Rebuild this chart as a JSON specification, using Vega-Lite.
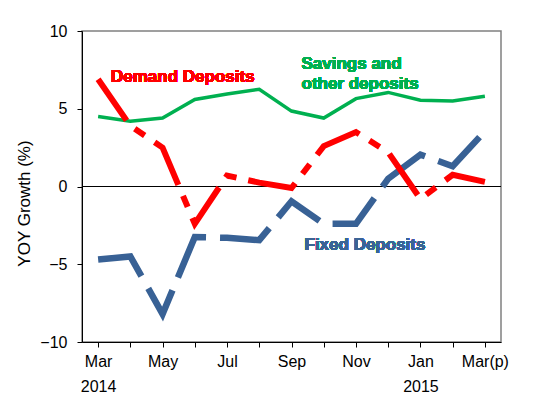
{
  "$schema": "https://vega.github.io/schema/vega-lite/v6.json",
  "width": 419,
  "height": 311,
  "autosize": {"type": "none"},
  "padding": {"left": 82, "top": 31, "right": 50, "bottom": 72},
  "background": "white",
  "config": {
    "font": "Liberation Sans",
    "view": {"stroke": "#808080", "strokeWidth": 1.5},
    "axis": {"grid": false, "domainColor": "black", "tickColor": "black", "labelColor": "black", "titleColor": "black", "labelFont": "Liberation Sans", "titleFont": "Liberation Sans"}
  },
  "data": {
    "values": [
      {"m": "Mar14", "s": "Demand", "v": 6.9},
      {"m": "Apr14", "s": "Demand", "v": 3.9},
      {"m": "May14", "s": "Demand", "v": 2.5},
      {"m": "Jun14", "s": "Demand", "v": -2.4},
      {"m": "Jul14", "s": "Demand", "v": 0.7},
      {"m": "Aug14", "s": "Demand", "v": 0.25},
      {"m": "Sep14", "s": "Demand", "v": -0.1},
      {"m": "Oct14", "s": "Demand", "v": 2.6},
      {"m": "Nov14", "s": "Demand", "v": 3.5},
      {"m": "Dec14", "s": "Demand", "v": 2.2},
      {"m": "Jan15", "s": "Demand", "v": -0.8},
      {"m": "Feb15", "s": "Demand", "v": 0.75},
      {"m": "Mar15", "s": "Demand", "v": 0.3},
      {"m": "Mar14", "s": "Savings", "v": 4.5},
      {"m": "Apr14", "s": "Savings", "v": 4.2},
      {"m": "May14", "s": "Savings", "v": 4.4},
      {"m": "Jun14", "s": "Savings", "v": 5.6},
      {"m": "Jul14", "s": "Savings", "v": 5.95},
      {"m": "Aug14", "s": "Savings", "v": 6.25},
      {"m": "Sep14", "s": "Savings", "v": 4.85},
      {"m": "Oct14", "s": "Savings", "v": 4.4},
      {"m": "Nov14", "s": "Savings", "v": 5.65},
      {"m": "Dec14", "s": "Savings", "v": 6.05},
      {"m": "Jan15", "s": "Savings", "v": 5.55},
      {"m": "Feb15", "s": "Savings", "v": 5.5},
      {"m": "Mar15", "s": "Savings", "v": 5.8},
      {"m": "Mar14", "s": "Fixed", "v": -4.7},
      {"m": "Apr14", "s": "Fixed", "v": -4.5},
      {"m": "May14", "s": "Fixed", "v": -8.2},
      {"m": "Jun14", "s": "Fixed", "v": -3.25},
      {"m": "Jul14", "s": "Fixed", "v": -3.3},
      {"m": "Aug14", "s": "Fixed", "v": -3.45},
      {"m": "Sep14", "s": "Fixed", "v": -0.95},
      {"m": "Oct14", "s": "Fixed", "v": -2.4},
      {"m": "Nov14", "s": "Fixed", "v": -2.4},
      {"m": "Dec14", "s": "Fixed", "v": 0.5},
      {"m": "Jan15", "s": "Fixed", "v": 2.05},
      {"m": "Feb15", "s": "Fixed", "v": 1.3},
      {"m": "Mar15", "s": "Fixed", "v": 3.55}
    ]
  },
  "encoding": {
    "x": {
      "field": "m", "type": "ordinal",
      "scale": {"domain": ["Mar14","Apr14","May14","Jun14","Jul14","Aug14","Sep14","Oct14","Nov14","Dec14","Jan15","Feb15","Mar15"], "paddingInner": 0, "paddingOuter": 0.5},
      "axis": {
        "title": null, "labelAngle": 0, "labelFontSize": 16, "tickSize": 5, "labelPadding": 6, "labelLineHeight": 25, "labelBaseline": "top",
        "labelExpr": "datum.value == 'Mar14' ? ['Mar','2014'] : datum.value == 'May14' ? 'May' : datum.value == 'Jul14' ? 'Jul' : datum.value == 'Sep14' ? 'Sep' : datum.value == 'Nov14' ? 'Nov' : datum.value == 'Jan15' ? ['Jan','2015'] : datum.value == 'Mar15' ? 'Mar(p)' : ''"
      }
    },
    "y": {
      "type": "quantitative",
      "scale": {"domain": [-10, 10], "nice": false},
      "axis": {"title": "YOY Growth (%)", "titleFontSize": 17, "titleFontWeight": "normal", "titlePadding": 6, "titleY": 172, "values": [-10, -5, 0, 5, 10], "labelFontSize": 16, "tickSize": 5, "labelPadding": 10}
    }
  },
  "layer": [
    {
      "mark": {"type": "rule", "color": "black", "strokeWidth": 1},
      "encoding": {"y": {"datum": 0}, "x": null}
    },
    {
      "transform": [{"filter": "datum.s == 'Savings'"}],
      "mark": {"type": "line", "color": "#00b050", "strokeWidth": 3.5},
      "encoding": {"y": {"field": "v"}}
    },
    {
      "transform": [{"filter": "datum.s == 'Fixed'"}],
      "mark": {"type": "line", "color": "#386195", "strokeWidth": 6.5, "strokeDash": [55, 14], "strokeCap": "butt"},
      "encoding": {"y": {"field": "v"}}
    },
    {
      "transform": [{"filter": "datum.s == 'Demand'"}],
      "mark": {"type": "line", "color": "#ff0000", "strokeWidth": 6, "strokeDash": [50, 12, 12, 12], "strokeCap": "butt"},
      "encoding": {"y": {"field": "v"}}
    },
    {
      "mark": {"type": "text", "font": "Liberation Sans", "fontWeight": "bold", "fontSize": 17, "color": "#ff0000", "dx": -12, "baseline": "middle"},
      "encoding": {"x": {"datum": "Jun14"}, "y": {"datum": 7.07}, "text": {"value": "Demand Deposits"}}
    },
    {
      "mark": {"type": "text", "font": "Liberation Sans", "fontWeight": "bold", "fontSize": 17, "color": "#00b050", "dx": 10, "align": "left", "baseline": "middle", "lineHeight": 19.7},
      "encoding": {"x": {"datum": "Sep14"}, "y": {"datum": 7.85}, "text": {"value": ["Savings and", "other deposits"]}}
    },
    {
      "mark": {"type": "text", "font": "Liberation Sans", "fontWeight": "bold", "fontSize": 17, "color": "#3a6496", "dx": 9, "baseline": "middle"},
      "encoding": {"x": {"datum": "Nov14"}, "y": {"datum": -3.76}, "text": {"value": "Fixed Deposits"}}
    }
  ]
}
